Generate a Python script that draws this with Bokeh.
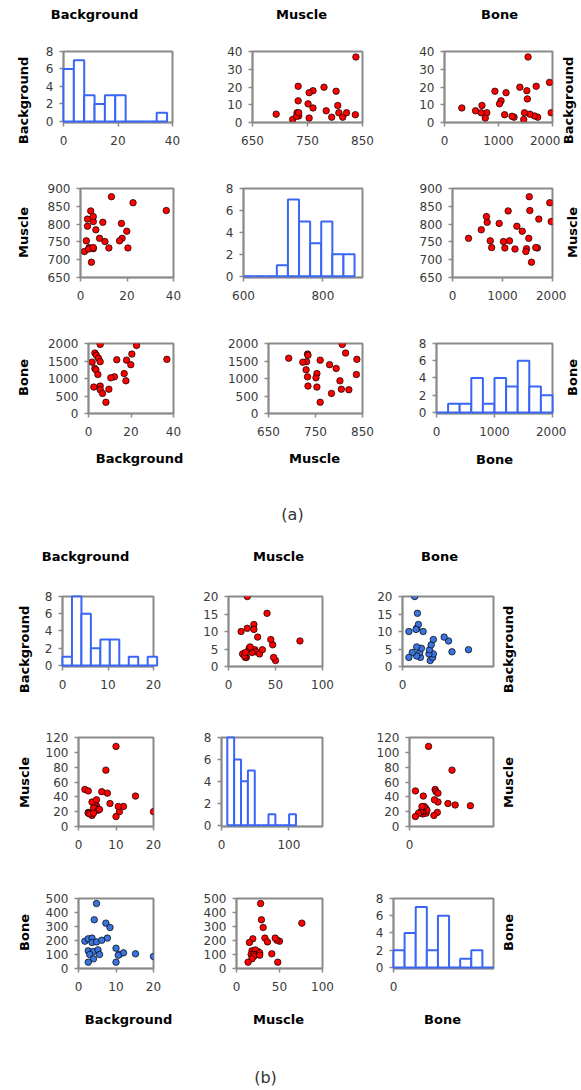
import math
from bokeh.plotting import figure
from bokeh.layouts import column, row
from bokeh.models import Range1d, FixedTicker, Plot
from bokeh.core.properties import value
from bokeh.embed import file_html
from bokeh.resources import INLINE

# ---------------- data: panel (a) ----------------
a_background = [5.5, 22.6, 3.0, 20.4, 3.7, 4.7, 36.9, 13.3, 17.9, 5.5, 1.7, 19.9, 3.0,
                3.5, 16.8, 4.4, 12.2, 10.5, 17.6, 5.5, 2.5, 9.6, 5.5, 6.6, 8.2]
a_muscle = [807, 860, 814, 733, 734, 693, 838, 877, 760, 731, 723, 780, 794,
            730, 753, 837, 733, 751, 802, 734, 753, 805, 821, 784, 760]
a_bone = [1975, 1945, 1726, 1698, 1665, 1580, 1547, 1535, 1525, 1481, 1467, 1395, 1288,
          1250, 1140, 1113, 1047, 1019, 934, 783, 755, 694, 679, 575, 321]

a_bg_edges = [0, 3.8, 7.6, 11.4, 15.2, 19.0, 22.8, 26.6, 30.4, 34.2, 38.0]
a_bg_counts = [6, 7, 3, 2, 3, 3, 0, 0, 0, 1]
a_mu_edges = [600, 628, 656, 684, 712, 740, 768, 796, 824, 852, 880]
a_mu_counts = [0, 0, 0, 1, 7, 5, 3, 5, 2, 2]
a_bo_edges = [0, 200, 400, 600, 800, 1000, 1200, 1400, 1600, 1800, 2000]
a_bo_counts = [0, 1, 1, 4, 1, 4, 3, 6, 3, 2]

# ---------------- data: panel (b) ----------------
b_background = [4.8, 4.2, 7.3, 8.4, 1.7, 2.6, 3.6, 3.6, 4.8, 6.2, 7.7, 10.0, 2.6,
                4.0, 5.2, 3.0, 5.6, 10.9, 12.0, 15.2, 20.0, 4.0, 2.6, 10.0, 10.6]
b_muscle = [28, 29, 76, 31, 50, 19, 33, 15, 36, 47, 45, 108, 18,
            25, 22, 17, 23, 20, 27, 41, 20, 18, 48, 13.4, 27]
b_bone = [464, 348, 324, 293, 195, 212, 217, 186, 190, 202, 217, 145, 126,
          121, 133, 100, 100, 100, 112, 105, 86, 69, 45, 45, 95]

b_bg_edges = [0, 2.08, 4.16, 6.24, 8.32, 10.4, 12.48, 14.56, 16.64, 18.72, 20.8]
b_bg_counts = [1, 8, 6, 2, 3, 3, 0, 1, 0, 1]
b_mu_edges = [8.6, 18.8, 29.0, 39.2, 49.4, 59.6, 69.8, 80.0, 90.2, 100.4, 110.6]
b_mu_counts = [8, 6, 4, 5, 0, 0, 1, 0, 0, 1]
b_bo_edges = [0, 50, 100, 150, 200, 250, 300, 350, 400, 450]
b_bo_counts = [2, 4, 7, 2, 6, 0, 1, 2, 0]

names = ["Background", "Muscle", "Bone"]

# ---------------- style ----------------
GRAY = "#8a8a8a"
TICK_C = "#3a3a3a"
RED = "#ff0000"
BLUEPT = "#3b74dc"
BLUEH = "#3a66f5"
FONT = "DejaVu Sans"
VERT = math.pi / 2
HAS_FA = "frame_align" in Plot.properties()


def base_fig(w, h, xr, yr, bl, br, bt, bb, axes=True):
    kw = dict(width=w, height=h, x_range=Range1d(*xr), y_range=Range1d(*yr),
              min_border_left=bl, min_border_right=br,
              min_border_top=bt, min_border_bottom=bb,
              output_backend="svg", toolbar_location=None, tools="")
    if not axes:
        kw["x_axis_location"] = None
        kw["y_axis_location"] = None
    p = figure(**kw)
    if HAS_FA:
        p.frame_align = False
    p.grid.visible = False
    p.background_fill_color = "white"
    p.border_fill_color = "white"
    if not axes:
        p.outline_line_color = None
    return p


def panel(x0, y0, w, h, frame, xr, yr, xt, yt):
    fl, ft, fr, fb = frame
    p = base_fig(w, h, xr, yr, fl - x0, x0 + w - fr, ft - y0, y0 + h - fb)
    p.outline_line_color = GRAY
    p.outline_line_width = 2
    p.outline_line_alpha = 1.0
    p.xaxis.ticker = FixedTicker(ticks=xt)
    p.yaxis.ticker = FixedTicker(ticks=yt)
    for ax in p.axis:
        ax.axis_line_color = GRAY
        ax.axis_line_width = 1.5
        ax.major_tick_line_color = GRAY
        ax.major_tick_line_width = 1.5
        ax.major_tick_out = 4
        ax.major_tick_in = 0
        ax.minor_tick_line_color = None
        ax.major_label_text_font = FONT
        ax.major_label_text_font_size = "12px"
        ax.major_label_text_color = TICK_C
    p.xaxis.major_label_standoff = 9
    p.yaxis.major_label_standoff = 6
    return p


def textfig(x0, y0, w, h):
    # data coordinates: x = page x, y = -(page y)
    return base_fig(w, h, (x0, x0 + w), (-(y0 + h), -y0), 0, 0, 0, 0, axes=False)


def txt(p, px, py, text, size="13px", bold=True, angle=0.0, color="black"):
    p.text(x=[px], y=[-py], text=[text], angle=angle,
           text_align="center", text_baseline="alphabetic",
           text_font=value(FONT), text_font_size=value(size),
           text_font_style="bold" if bold else "normal", text_color=color)


def hist(p, edges, counts):
    L = [edges[i] for i in range(len(counts)) if counts[i] > 0]
    R = [edges[i + 1] for i in range(len(counts)) if counts[i] > 0]
    T = [counts[i] for i in range(len(counts)) if counts[i] > 0]
    ZL = [edges[i] for i in range(len(counts)) if counts[i] == 0]
    ZR = [edges[i + 1] for i in range(len(counts)) if counts[i] == 0]
    p.quad(left=L, right=R, bottom=0, top=T, fill_color="white",
           line_color=BLUEH, line_width=2, level="overlay")
    if ZL:
        p.segment(x0=ZL, y0=[0] * len(ZL), x1=ZR, y1=[0] * len(ZL),
                  line_color=BLUEH, line_width=2, level="overlay")


def pts(p, xs, ys, color):
    p.scatter(x=xs, y=ys, marker="circle", size=6.5, fill_color=color,
              line_color="black", line_width=0.7)


HZ = (-0.12, 8)
H_T = [0, 2, 4, 6, 8]

# ================= (a) =================
TA = textfig(0, 0, 581, 30)
txt(TA, 94, 13.5, names[0])
txt(TA, 301, 13.5, names[1])
txt(TA, 499, 13.5, names[2])

# row A1  (page y 30..160)
LA1 = textfig(0, 30, 36, 130)
txt(LA1, 23.3, 100, names[0], angle=VERT)
A11 = panel(36, 30, 164, 130, (63, 51, 172, 122), (0, 40), HZ, [0, 20, 40], H_T)
hist(A11, a_bg_edges, a_bg_counts)
A12 = panel(200, 30, 190, 130, (252, 51, 362, 122), (650, 850), (0, 40), [650, 750, 850], [0, 10, 20, 30, 40])
pts(A12, a_muscle, a_background, RED)
A13 = panel(390, 30, 170, 130, (444, 51, 552, 122), (0, 2000), (0, 40), [0, 1000, 2000], [0, 10, 20, 30, 40])
pts(A13, a_bone, a_background, RED)
RA1 = textfig(560, 30, 21, 130)
txt(RA1, 568.3, 100, names[0], angle=VERT)

# row A2  (page y 160..310)
LA2 = textfig(0, 160, 36, 150)
txt(LA2, 23.3, 232, names[1], angle=VERT)
A21 = panel(36, 160, 164, 150, (80, 188, 173, 277), (0, 40), (650, 900), [0, 20, 40], [650, 700, 750, 800, 850, 900])
pts(A21, a_background, a_muscle, RED)
A22 = panel(200, 160, 190, 150, (243, 188, 362, 277), (600, 900), HZ, [600, 800], H_T)
hist(A22, a_mu_edges, a_mu_counts)
A23 = panel(390, 160, 176, 150, (452, 188, 552, 277), (0, 2000), (650, 900), [0, 1000, 2000], [650, 700, 750, 800, 850, 900])
pts(A23, a_bone, a_muscle, RED)
RA2 = textfig(566, 160, 15, 150)
txt(RA2, 572, 232, names[1], angle=VERT)

# row A3  (page y 310..445)
LA3 = textfig(0, 310, 36, 135)
txt(LA3, 23.3, 377, names[2], angle=VERT)
A31 = panel(36, 310, 164, 135, (88, 343, 173, 413), (0, 40), (0, 2000), [0, 20, 40], [0, 500, 1000, 1500, 2000])
pts(A31, a_background, a_bone, RED)
A32 = panel(200, 310, 190, 135, (268, 343, 362, 413), (650, 850), (0, 2000), [650, 750, 850], [0, 500, 1000, 1500, 2000])
pts(A32, a_muscle, a_bone, RED)
A33 = panel(390, 310, 176, 135, (436, 343, 552, 413), (0, 2000), HZ, [0, 1000, 2000], H_T)
hist(A33, a_bo_edges, a_bo_counts)
RA3 = textfig(566, 310, 15, 135)
txt(RA3, 572, 377, names[2], angle=VERT)

BA = textfig(0, 445, 581, 90)
txt(BA, 139, 458, names[0])
txt(BA, 314, 458, names[1])
txt(BA, 494, 459, names[2])
txt(BA, 292, 514, "(a)", size="16px", bold=False, color="#333333")

# ================= (b) =================
TB = textfig(0, 535, 581, 40)
txt(TB, 85, 556, names[0])
txt(TB, 278, 556, names[1])
txt(TB, 439, 556, names[2])

# row B1 (page y 575..710)
LB1 = textfig(0, 575, 36, 135)
txt(LB1, 24, 649, names[0], angle=VERT)
B11 = panel(36, 575, 139, 135, (62, 596, 153, 666), (0, 20), HZ, [0, 10, 20], H_T)
hist(B11, b_bg_edges, b_bg_counts)
B12 = panel(175, 575, 180, 135, (228, 596, 322, 666), (0, 100), (0, 20), [0, 50, 100], [0, 5, 10, 15, 20])
pts(B12, b_muscle, b_background, RED)
B13 = panel(355, 575, 141, 135, (402, 596, 493, 666), (0, 640), (0, 20), [0], [0, 5, 10, 15, 20])
pts(B13, b_bone, b_background, BLUEPT)
RB1 = textfig(496, 575, 85, 135)
txt(RB1, 508, 649, names[0], angle=VERT)

# row B2 (page y 710..860)
LB2 = textfig(0, 710, 36, 150)
txt(LB2, 24, 782, names[1], angle=VERT)
B21 = panel(36, 710, 139, 150, (78, 737, 153, 826), (0, 20), (0, 120), [0, 10, 20], [0, 20, 40, 60, 80, 100, 120])
pts(B21, b_background, b_muscle, RED)
B22 = panel(175, 710, 180, 150, (221, 737, 322, 826), (0, 150), HZ, [0, 100], H_T)
hist(B22, b_mu_edges, b_mu_counts)
B23 = panel(355, 710, 141, 150, (409, 737, 493, 826), (0, 640), (0, 120), [0], [0, 20, 40, 60, 80, 100, 120])
pts(B23, b_bone, b_muscle, RED)
RB2 = textfig(496, 710, 85, 150)
txt(RB2, 508, 782, names[1], angle=VERT)

# row B3 (page y 860..1000)
LB3 = textfig(0, 860, 36, 140)
txt(LB3, 24, 932, names[2], angle=VERT)
B31 = panel(36, 860, 139, 140, (78, 898, 153, 968), (0, 20), (0, 500), [0, 10, 20], [0, 100, 200, 300, 400, 500])
pts(B31, b_background, b_bone, BLUEPT)
B32 = panel(175, 860, 180, 140, (236, 898, 322, 968), (0, 100), (0, 500), [0, 50, 100], [0, 100, 200, 300, 400, 500])
pts(B32, b_muscle, b_bone, RED)
B33 = panel(355, 860, 141, 140, (393, 898, 493, 968), (0, 450), HZ, [0], H_T)
hist(B33, b_bo_edges, b_bo_counts)
RB3 = textfig(496, 860, 85, 140)
txt(RB3, 508, 932, names[2], angle=VERT)

BB = textfig(0, 1000, 581, 90)
txt(BB, 128, 1019, names[0])
txt(BB, 278, 1019, names[1])
txt(BB, 442, 1019, names[2])
txt(BB, 265, 1077, "(b)", size="16px", bold=False, color="#333333")

layout = column(
    TA,
    row(LA1, A11, A12, A13, RA1),
    row(LA2, A21, A22, A23, RA2),
    row(LA3, A31, A32, A33, RA3),
    BA,
    TB,
    row(LB1, B11, B12, B13, RB1),
    row(LB2, B21, B22, B23, RB2),
    row(LB3, B31, B32, B33, RB3),
    BB,
)

open("out.html", "w").write(file_html(layout, INLINE))
